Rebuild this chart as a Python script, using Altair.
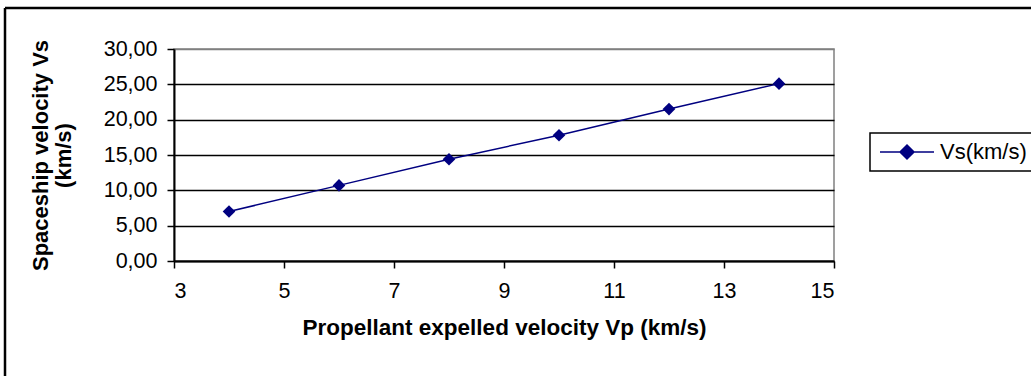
import altair as alt
import pandas as pd

# Propellant expelled velocity (km/s) and resulting spaceship velocity (km/s)
vp = [4, 6, 8, 10, 12, 14]
vs = [7.0, 10.7, 14.4, 17.8, 21.5, 25.1]
series = "Vs(km/s)"

x_ticks = [3, 5, 7, 9, 11, 13, 15]
y_ticks = [0, 5, 10, 15, 20, 25, 30]

df = pd.DataFrame({"Vp": vp, "Vs": vs, "series": [series] * len(vp)})

NAVY = "#000080"
FONT = "Liberation Sans"
W, H = 660, 212
PAD_L, PAD_T = 174, 49
TOTAL_W, TOTAL_H = 1031, 376

x_enc = alt.X(
    "Vp:Q",
    scale=alt.Scale(domain=[3, 15], nice=False, zero=False),
    axis=alt.Axis(
        values=x_ticks,
        format="d",
        title="Propellant expelled velocity Vp (km/s)",
        grid=False,
        labelFontSize=21.5,
        labelPadding=12,
        titleFontSize=22.5,
        titlePadding=15,
    ),
)
y_enc = alt.Y(
    "Vs:Q",
    scale=alt.Scale(domain=[0, 30], nice=False),
    axis=alt.Axis(
        values=y_ticks,
        labelExpr="replace(format(datum.value, '.2f'), '.', ',')",
        title=["Spaceship velocity Vs", "(km/s)"],
        grid=True,
        gridColor={"condition": {"test": "datum.value >= 30", "value": "#808080"}, "value": "#000000"},
        gridWidth=1.5,
        labelFontSize=21.5,
        labelPadding=10,
        titleFontSize=22,
        titlePadding=28,
        titleLineHeight=23,
    ),
)

base = alt.Chart(df)

line = base.mark_line(color=NAVY, strokeWidth=1.5).encode(x=x_enc, y=y_enc)

# legend symbol: short line segment with a diamond in the middle
legend_path = "M-2.7,0L2.7,0M0,-0.7L0.7,0L0,0.7L-0.7,0Z"

points = base.mark_point(shape="diamond", filled=True, size=160, opacity=1).encode(
    x=x_enc,
    y=y_enc,
    color=alt.Color(
        "series:N",
        scale=alt.Scale(domain=[series], range=[NAVY]),
        legend=alt.Legend(
            title=None,
            orient="none",
            legendX=696,
            legendY=84,
            padding=8,
            strokeColor="#000000",
            fillColor="#ffffff",
            symbolType=legend_path,
            symbolSize=400,
            symbolFillColor=NAVY,
            symbolStrokeColor=NAVY,
            symbolStrokeWidth=1.5,
            symbolOffset=18,
            labelOffset=22,
            labelFontSize=22,
            labelFont=FONT,
        ),
    ),
)

# outer chart frame (top and left edges)
frame_data = alt.Data(values=[{"k": 0}])
frame_top = alt.Chart(frame_data).mark_rule(color="#000000", strokeWidth=2.5).encode(
    x=alt.value(5 - PAD_L), x2=alt.value(TOTAL_W - PAD_L), y=alt.value(8 - PAD_T)
)
frame_left = alt.Chart(frame_data).mark_rule(color="#000000", strokeWidth=2.5).encode(
    x=alt.value(5 - PAD_L), y=alt.value(8 - PAD_T), y2=alt.value(TOTAL_H - PAD_T)
)

chart = (
    alt.layer(line, points, frame_top, frame_left)
    .properties(
        width=W,
        height=H,
        autosize=alt.AutoSizeParams(type="none"),
        padding={"left": PAD_L, "top": PAD_T, "right": TOTAL_W - PAD_L - W, "bottom": TOTAL_H - PAD_T - H},
        background="#ffffff",
    )
    .configure_view(stroke="#808080", strokeWidth=1.5)
    .configure_legend(strokeWidth=1.5)
    .configure_axis(
        labelFont=FONT,
        titleFont=FONT,
        labelColor="#000000",
        titleColor="#000000",
        titleFontWeight="bold",
        domainColor="#000000",
        domainWidth=2,
        tickColor="#000000",
        tickWidth=1.5,
        tickSize=7,
    )
)

chart.save("out.html", embed_options={"renderer": "svg", "actions": False})
